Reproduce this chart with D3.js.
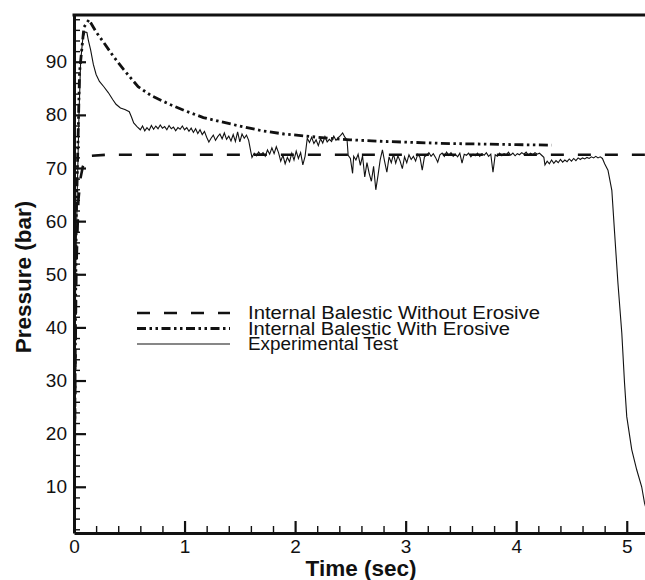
<!DOCTYPE html>
<html>
<head>
<meta charset="utf-8">
<script src="https://cdn.jsdelivr.net/npm/d3@7"></script>
<style>
  body { margin: 0; background: #fff; }
  text { font-family: "Liberation Sans", Arial, sans-serif; fill: #111; }
  .axis-title { font-size: 22.5px; font-weight: bold; }
  .legend { font-size: 18px; }
</style>
</head>
<body>
<div id="chart"></div>
<script>
// tick values
const xMajorTicks = [0, 1, 2, 3, 4, 5];
const yMajorTicks = [10, 20, 30, 40, 50, 60, 70, 80, 90];

const legendLabels = [
    "Internal Balestic Without Erosive",
    "Internal Balestic With Erosive",
    "Experimental Test"
];

// internal balestic without erosive: [time, pressure]
const withoutErosive = [
    [0.0, 2], [0.02, 50], [0.04, 64], [0.06, 68.2], [0.08, 70.3], [0.11, 71.6], [0.15, 72.3],
    [0.3, 72.5], [1.0, 72.5], [2.0, 72.5], [3.0, 72.5], [4.0, 72.5], [5.2, 72.5]
];

// internal balestic with erosive: [time, pressure]
const withErosive = [
    [0.0, 2], [0.02, 60], [0.05, 88], [0.09, 96.5], [0.135, 97.9], [0.2, 95.6], [0.27, 93.6],
    [0.35, 91.2], [0.45, 88.5], [0.58, 85.3], [0.7, 83.6], [0.875, 81.9], [1.0, 80.8],
    [1.17, 79.5], [1.33, 78.7], [1.5, 77.9], [1.7, 77.0], [1.9, 76.4], [2.1, 76.0],
    [2.3, 75.6], [2.5, 75.3], [2.8, 75.0], [3.1, 74.8], [3.4, 74.6], [3.7, 74.5],
    [4.0, 74.4], [4.32, 74.3]
];

// experimental test: [time, pressure]
const experimental = [
    [0.00, 2], [0.015, 50], [0.03, 66], [0.045, 80], [0.06, 90], [0.08, 94.5], [0.1, 95.6],
    [0.117, 95.5], [0.13, 94], [0.15, 92.3], [0.175, 89.5], [0.2, 87.6], [0.23, 86.3], [0.27, 85.3],
    [0.31, 84.2], [0.35, 82.9], [0.38, 82.0], [0.42, 81.3], [0.46, 81.0], [0.5, 80.6],
    [0.52, 79.6], [0.54, 78.5], [0.57, 77.8], [0.6, 77.2],
    [0.62, 77.9], [0.64, 77.0], [0.66, 77.6], [0.68, 77.1], [0.70, 78.0], [0.72, 77.3],
    [0.74, 77.9], [0.76, 77.4], [0.78, 78.1], [0.80, 77.5], [0.82, 77.8], [0.84, 77.2],
    [0.86, 78.0], [0.88, 77.4], [0.90, 77.7], [0.92, 77.0], [0.94, 77.6], [0.96, 77.3],
    [0.98, 77.9], [1.00, 77.2], [1.02, 77.6], [1.04, 76.9], [1.06, 77.5], [1.08, 76.7],
    [1.10, 77.4], [1.12, 76.5], [1.14, 77.2], [1.16, 76.3], [1.18, 76.9], [1.20, 75.8],
    [1.22, 74.9], [1.24, 75.6], [1.26, 76.2], [1.28, 75.2], [1.30, 75.9], [1.32, 76.4],
    [1.34, 75.5], [1.36, 76.6], [1.38, 75.4], [1.40, 76.0], [1.42, 75.1], [1.44, 76.3],
    [1.46, 75.0], [1.48, 76.8], [1.50, 74.9], [1.52, 76.4], [1.54, 75.6], [1.56, 76.2],
    [1.58, 75.2], [1.60, 73.0], [1.61, 72.0], [1.63, 72.8], [1.65, 72.3], [1.67, 73.0],
    [1.69, 72.5], [1.71, 72.9], [1.73, 72.2], [1.75, 73.4], [1.77, 72.6], [1.79, 73.8],
    [1.81, 72.7], [1.83, 74.0], [1.85, 72.9], [1.87, 71.3], [1.89, 72.4], [1.91, 70.8],
    [1.93, 72.0], [1.95, 71.2], [1.97, 72.8], [1.99, 71.5], [2.01, 73.2], [2.03, 71.8],
    [2.05, 72.9], [2.07, 70.6], [2.09, 72.2], [2.11, 75.6], [2.13, 74.8], [2.15, 75.8],
    [2.17, 74.6], [2.19, 75.3], [2.21, 74.2], [2.23, 75.5], [2.25, 74.7], [2.27, 75.9],
    [2.29, 74.9], [2.31, 75.4], [2.33, 75.0], [2.35, 76.0], [2.37, 75.2], [2.39, 75.7],
    [2.41, 76.1], [2.43, 76.6], [2.45, 75.8], [2.47, 75.3], [2.48, 72.4], [2.50, 71.8],
    [2.52, 69.0], [2.53, 72.2], [2.55, 71.5], [2.57, 72.6], [2.59, 70.5], [2.61, 72.3],
    [2.63, 68.3], [2.65, 71.0], [2.67, 69.0], [2.69, 67.5], [2.71, 70.3], [2.73, 65.9],
    [2.75, 68.6], [2.77, 71.6], [2.79, 73.4], [2.81, 71.2], [2.83, 69.2], [2.85, 72.1],
    [2.87, 71.0], [2.89, 72.6], [2.91, 70.9], [2.93, 72.3], [2.95, 71.3], [2.97, 69.9],
    [2.99, 72.1], [3.01, 71.0], [3.03, 72.5], [3.05, 71.6], [3.07, 72.2], [3.09, 71.3],
    [3.11, 72.6], [3.13, 72.0], [3.15, 69.6], [3.17, 72.1], [3.19, 72.4], [3.21, 72.9],
    [3.23, 72.2], [3.25, 72.7], [3.27, 72.0], [3.29, 71.1], [3.31, 72.5], [3.33, 72.8],
    [3.35, 72.2], [3.37, 73.0], [3.39, 72.4], [3.41, 72.9], [3.43, 72.2], [3.45, 72.6],
    [3.47, 72.1], [3.49, 72.8], [3.51, 70.9], [3.53, 72.6], [3.55, 72.4], [3.57, 72.8],
    [3.59, 72.1], [3.61, 72.6], [3.63, 72.3], [3.65, 72.8], [3.67, 72.2], [3.69, 72.7],
    [3.71, 72.4], [3.73, 72.9], [3.75, 72.2], [3.77, 72.6], [3.79, 69.2], [3.81, 72.5],
    [3.83, 72.2], [3.85, 72.8], [3.87, 72.3], [3.89, 72.7], [3.91, 72.5], [3.93, 73.0],
    [3.95, 72.4], [3.97, 72.8], [3.99, 72.3], [4.01, 72.7], [4.03, 72.5], [4.05, 72.9],
    [4.07, 72.6], [4.09, 73.0], [4.11, 72.4], [4.13, 72.8], [4.15, 72.5], [4.17, 72.9],
    [4.19, 72.6], [4.21, 72.8], [4.23, 72.4], [4.25, 72.0], [4.26, 70.6], [4.28, 71.3],
    [4.30, 70.8], [4.32, 71.5], [4.34, 70.9], [4.36, 71.4], [4.38, 71.0], [4.40, 71.6],
    [4.42, 71.1], [4.44, 71.5], [4.46, 71.2], [4.48, 71.7], [4.50, 71.3], [4.52, 71.8],
    [4.54, 71.4], [4.56, 71.9], [4.58, 71.6], [4.60, 71.9], [4.62, 71.7], [4.64, 72.0],
    [4.66, 71.8], [4.68, 72.1], [4.70, 71.9], [4.72, 72.2], [4.74, 71.9], [4.76, 72.1],
    [4.78, 71.8], [4.80, 70.8], [4.83, 69.6], [4.865, 65.8], [4.89, 57.8], [4.92, 48.4],
    [4.955, 39.0], [4.98, 29.5], [5.00, 23.2], [5.045, 17.0], [5.09, 13.2], [5.135, 10.0],
    [5.16, 7.0], [5.2, 4.0]
];

// dimensions
const W = 645, H = 580;
const margin = { top: 15, right: 0, bottom: 47, left: 74 };

const svg = d3.select("#chart")
    .append("svg")
    .attr("width", W)
    .attr("height", H);

// scales
const x = d3.scaleLinear().domain([0, 5.165]).range([margin.left, W - margin.right]);
const y = d3.scaleLinear().domain([1.3, 98.8]).range([H - margin.bottom, margin.top]);

const xMinor = d3.range(0, 5.2, 0.2).filter(v => !xMajorTicks.some(m => Math.abs(m - v) < 1e-6));
const yMinor = d3.range(2, 99, 2).filter(v => !yMajorTicks.includes(v));

// clip to plot area
svg.append("clipPath").attr("id", "clip")
    .append("rect")
    .attr("x", margin.left).attr("y", margin.top)
    .attr("width", W - margin.left - margin.right)
    .attr("height", H - margin.top - margin.bottom);

const line = d3.line().x(d => x(d[0])).y(d => y(d[1]));

const plot = svg.append("g").attr("clip-path", "url(#clip)");

// line styles: dashed, dash-dot-dot, thin solid
const seriesStyles = [
    { dash: "13,14", width: 2.6 },
    { dash: "9,3.5,2.5,3.5,2.5,3.5", width: 2.8 },
    { dash: null, width: 1.1 }
];

[withoutErosive, withErosive, experimental].forEach((series, i) => {
    plot.append("path")
        .datum(series)
        .attr("d", line)
        .attr("fill", "none")
        .attr("stroke", "#111")
        .attr("stroke-width", seriesStyles[i].width)
        .attr("stroke-dasharray", seriesStyles[i].dash);
});

// axes
const xAxis = svg.append("g")
    .attr("transform", `translate(0, ${y.range()[0]})`)
    .call(d3.axisBottom(x).tickValues(xMajorTicks).tickSize(-12).tickSizeOuter(0).tickPadding(7).tickFormat(d3.format("d")));
svg.append("g")
    .attr("transform", `translate(0, ${y.range()[0]})`)
    .call(d3.axisBottom(x).tickValues(xMinor).tickSize(-7).tickSizeOuter(0).tickFormat(""))
    .call(g => g.select(".domain").remove());

const yAxis = svg.append("g")
    .attr("transform", `translate(${x.range()[0]}, 0)`)
    .call(d3.axisLeft(y).tickValues(yMajorTicks).tickSize(-12).tickSizeOuter(0).tickPadding(7));
svg.append("g")
    .attr("transform", `translate(${x.range()[0]}, 0)`)
    .call(d3.axisLeft(y).tickValues(yMinor).tickSize(-6).tickSizeOuter(0).tickFormat(""))
    .call(g => g.select(".domain").remove());

svg.selectAll(".domain").attr("stroke", "#111").attr("stroke-width", 3);
svg.selectAll(".tick line").attr("stroke", "#111").attr("stroke-width", 1.4);
xAxis.selectAll(".tick line").attr("stroke-width", 2.2);
yAxis.selectAll(".tick line").attr("stroke-width", 2.2);
svg.selectAll(".tick text")
    .attr("fill", "#111")
    .style("font-size", "19px")
    .style("font-family", "'Liberation Sans', Arial, sans-serif");

// top frame line
svg.append("line")
    .attr("x1", x.range()[0] - 1.5).attr("x2", W)
    .attr("y1", y.range()[1]).attr("y2", y.range()[1])
    .attr("stroke", "#111").attr("stroke-width", 3);

// axis titles
svg.append("text")
    .attr("class", "axis-title")
    .attr("x", 361)
    .attr("y", 576)
    .attr("text-anchor", "middle")
    .text("Time (sec)");

svg.append("text")
    .attr("class", "axis-title")
    .attr("transform", `translate(31, 277) rotate(-90)`)
    .attr("text-anchor", "middle")
    .text("Pressure (bar)");

// legend
const legend = svg.append("g");
legendLabels.forEach((label, i) => {
    const ly = 313 + i * 15.5;
    legend.append("line")
        .attr("x1", 137).attr("x2", 230)
        .attr("y1", ly).attr("y2", ly)
        .attr("stroke", "#111")
        .attr("stroke-width", seriesStyles[i].width)
        .attr("stroke-dasharray", seriesStyles[i].dash);
    legend.append("text")
        .attr("class", "legend")
        .attr("x", 248)
        .attr("y", ly + 6)
        .attr("textLength", [292, 262, 150][i])
        .attr("lengthAdjust", "spacingAndGlyphs")
        .text(label);
});
</script>
</body>
</html>
